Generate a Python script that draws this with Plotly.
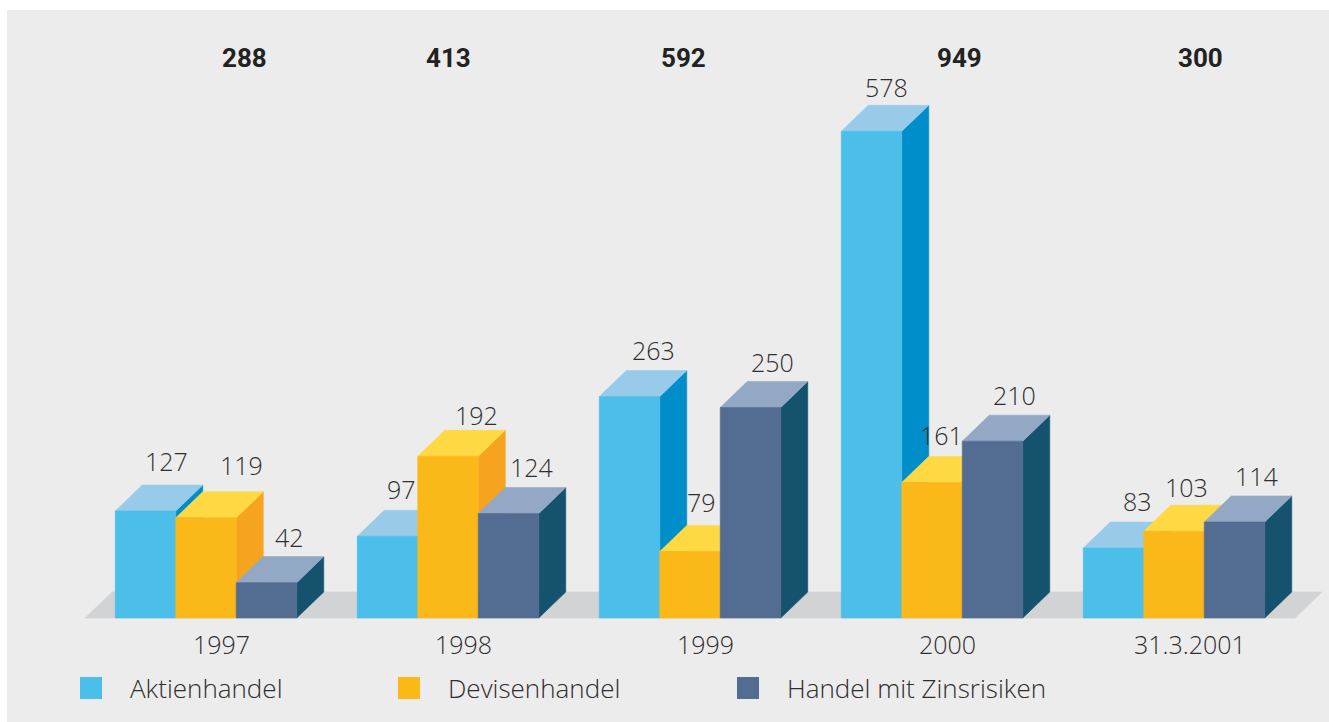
import plotly.graph_objects as go

# ---- data ----
categories = ["1997", "1998", "1999", "2000", "31.3.2001"]
series_names = ["Aktienhandel", "Devisenhandel", "Handel mit Zinsrisiken"]
aktien = [127, 97, 263, 578, 83]
devisen = [119, 192, 79, 161, 103]
zins = [42, 124, 250, 210, 114]
totals = [288, 413, 592, 949, 300]

# ---- styling / geometry ----
front_cols = ["#4bbfea", "#fbb819", "#536c91"]
top_cols = ["#98cbea", "#fed944", "#93a8c4"]
side_cols = ["#008ecb", "#f6a31f", "#15526e"]
BAR_W = 0.25            # width of one bar in group units
DX = 0.1116             # depth offset, x (group units)
DY = 30.9               # depth offset, y (value units)
FLOOR_COL = "#d2d3d5"
BG_COL = "#ececec"
TXT_COL = "#2e2e2e"
FONT = "Open Sans"
total_shift = [0.16, 0.0, -0.025, 0.115, 0.11]
# value-label placement (pixels right of bar centre / above the back top edge)
label_dx_px = [[21, 14, 24, 14.5, 24], [35, 28, 11, 9, 12], [22.5, 22.5, 22, 22, 21.5]]
label_dy_px = [[24, 21, 21, 18.5, 21], [27, 15, 23, 21.5, 18], [20, 20.6, 19, 20, 20]]

W, H = 1329, 722
cx0 = 206               # pixel of group 0 centre
base = 618              # pixel of value 0
grp_px = 242
px_per_val = 0.842
x_range = [-cx0 / grp_px, (W - cx0) / grp_px]
y_range = [-(H - base) / px_per_val, base / px_per_val]

fig = go.Figure()


def poly(xs, ys, color):
    fig.add_trace(go.Scatter(
        x=xs + [xs[0]], y=ys + [ys[0]], mode="lines", fill="toself",
        fillcolor=color, line=dict(color=color, width=0.6),
        hoverinfo="skip", showlegend=False))


# floor
n = len(categories)
fx0, fx1 = -0.5, n - 0.5
poly([fx0, fx1, fx1 + DX, fx0 + DX], [0, 0, DY, DY], FLOOR_COL)

all_series = [aktien, devisen, zins]
annotations = []
for i in range(n):
    for j, vals in enumerate(all_series):
        v = vals[i]
        x0 = i + (j - 1.5) * BAR_W
        x1 = x0 + BAR_W
        # side
        poly([x1, x1 + DX, x1 + DX, x1], [0, DY, v + DY, v], side_cols[j])
        # top
        poly([x0, x1, x1 + DX, x0 + DX], [v, v, v + DY, v + DY], top_cols[j])
        # front
        poly([x0, x1, x1, x0], [0, 0, v, v], front_cols[j])
        annotations.append(dict(
            x=(x0 + x1) / 2 + label_dx_px[j][i] / grp_px,
            y=v + DY + label_dy_px[j][i] / px_per_val,
            text=str(v), showarrow=False, xanchor="center", yanchor="middle",
            font=dict(family=FONT, size=25, color=TXT_COL, weight=300)))
    # category label
    annotations.append(dict(
        x=i + 0.065, y=-31, text=categories[i], showarrow=False,
        xanchor="center", yanchor="middle",
        font=dict(family=FONT, size=25, color=TXT_COL, weight=300)))
    # total
    annotations.append(dict(
        x=i + total_shift[i], y=(base - 58) / px_per_val, text=str(totals[i]),
        showarrow=False, xanchor="center", yanchor="middle",
        font=dict(family="Roboto", size=26, color="#222222", weight="bold")))

# background panel + legend (manual)
shapes = [dict(type="rect", xref="paper", yref="paper", x0=7 / W, x1=1,
               y0=0, y1=1 - 10 / H, fillcolor=BG_COL,
               line=dict(width=0), layer="below")]
leg_sq_x = [80, 398, 737]
leg_y = 688
for k, name in enumerate(series_names):
    sx = leg_sq_x[k]
    shapes.append(dict(type="rect", xref="paper", yref="paper",
                       x0=sx / W, x1=(sx + 22) / W,
                       y0=1 - (leg_y + 11) / H, y1=1 - (leg_y - 11) / H,
                       fillcolor=front_cols[k], line=dict(width=0)))
    annotations.append(dict(
        xref="paper", yref="paper", x=(sx + 48) / W, y=1 - leg_y / H,
        text=name, showarrow=False, xanchor="left", yanchor="middle",
        font=dict(family=FONT, size=26, color=TXT_COL, weight=300)))

fig.update_layout(
    width=W, height=H, margin=dict(l=0, r=0, t=0, b=0),
    paper_bgcolor="white", plot_bgcolor="rgba(0,0,0,0)",
    xaxis=dict(range=x_range, visible=False, fixedrange=True),
    yaxis=dict(range=y_range, visible=False, fixedrange=True),
    showlegend=False, shapes=shapes, annotations=annotations)

fig.write_html("out.html", config={"displayModeBar": False},
               post_script="document.body.style.margin='0';"
                           "document.body.style.overflow='hidden';")
